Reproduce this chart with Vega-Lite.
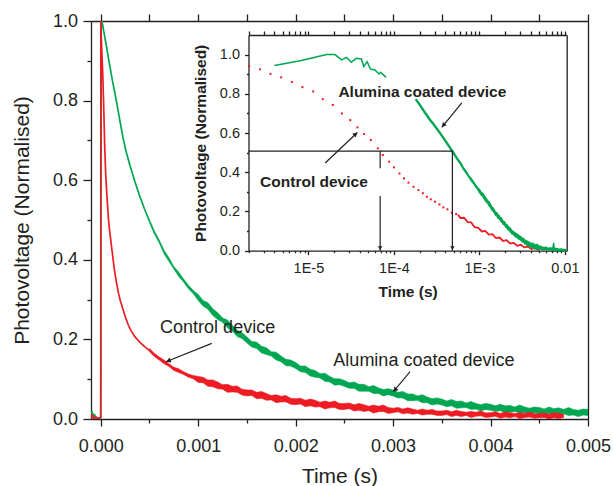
{
  "$schema": "https://vega.github.io/schema/vega-lite/v6.json",
  "width": 497,
  "height": 398,
  "autosize": {"type": "none"},
  "padding": {"left": 91, "top": 21, "right": 25, "bottom": 67},
  "background": "white",
  "config": {
    "view": {"stroke": null},
    "font": "Liberation Sans",
    "axis": {
      "labelFont": "Liberation Sans", "titleFont": "Liberation Sans",
      "domainColor": "#231f20", "tickColor": "#231f20", "labelColor": "#231f20", "titleColor": "#231f20",
      "grid": false, "domainWidth": 1.3, "tickWidth": 1.3, "labelFlush": false, "labelOverlap": false, "labelBound": false
    },
    "text": {"font": "Liberation Sans", "color": "#231f20"}
  },
  "datasets": {
    "greenMain": [
      {"t": -0.0001, "v": 0.008}, {"t": -0.00009, "v": 0.02}, {"t": -0.000085, "v": 0.004}, {"t": -0.00008, "v": 0.014},
      {"t": -0.00007, "v": 0.003}, {"t": -0.00006, "v": 0.009}, {"t": -0.00005, "v": 0.002}, {"t": -0.00004, "v": 0.004},
      {"t": -0.00002, "v": 0.002}, {"t": 0, "v": 0.003}, {"t": 0.000005, "v": 1.0}, {"t": 0.00001, "v": 1.0},
      {"t": 0.00002, "v": 0.99}, {"t": 0.00003, "v": 0.975}, {"t": 0.00004, "v": 0.962}, {"t": 0.00006, "v": 0.935},
      {"t": 0.00008, "v": 0.905}, {"t": 0.0001, "v": 0.878}, {"t": 0.00012, "v": 0.85}, {"t": 0.00014, "v": 0.825},
      {"t": 0.00016, "v": 0.8}, {"t": 0.00018, "v": 0.772}, {"t": 0.0002, "v": 0.745}, {"t": 0.00023, "v": 0.705},
      {"t": 0.00026, "v": 0.672}, {"t": 0.0003, "v": 0.637}, {"t": 0.00035, "v": 0.597}, {"t": 0.0004, "v": 0.56},
      {"t": 0.00045, "v": 0.527}, {"t": 0.0005, "v": 0.497}
    ],
    "greenBand": [
      {"t": 0.0005, "lo": 0.493, "hi": 0.501}, {"t": 0.00055, "lo": 0.465, "hi": 0.473}, {"t": 0.0006, "lo": 0.442, "hi": 0.45},
      {"t": 0.00065, "lo": 0.415, "hi": 0.424}, {"t": 0.0007, "lo": 0.396, "hi": 0.405}, {"t": 0.00075, "lo": 0.377, "hi": 0.383},
      {"t": 0.0008, "lo": 0.358, "hi": 0.369}, {"t": 0.00085, "lo": 0.344, "hi": 0.352}, {"t": 0.0009, "lo": 0.327, "hi": 0.336},
      {"t": 0.00095, "lo": 0.315, "hi": 0.323}, {"t": 0.001, "lo": 0.298, "hi": 0.313}, {"t": 0.00105, "lo": 0.284, "hi": 0.298},
      {"t": 0.0011, "lo": 0.276, "hi": 0.292}, {"t": 0.00115, "lo": 0.26, "hi": 0.277}, {"t": 0.0012, "lo": 0.25, "hi": 0.267},
      {"t": 0.00125, "lo": 0.243, "hi": 0.254}, {"t": 0.0013, "lo": 0.229, "hi": 0.249}, {"t": 0.00135, "lo": 0.221, "hi": 0.235},
      {"t": 0.0014, "lo": 0.207, "hi": 0.223}, {"t": 0.00145, "lo": 0.202, "hi": 0.217}, {"t": 0.0015, "lo": 0.191, "hi": 0.206},
      {"t": 0.00155, "lo": 0.181, "hi": 0.195}, {"t": 0.0016, "lo": 0.177, "hi": 0.193}, {"t": 0.00165, "lo": 0.166, "hi": 0.183},
      {"t": 0.0017, "lo": 0.162, "hi": 0.179}, {"t": 0.00175, "lo": 0.158, "hi": 0.169}, {"t": 0.0018, "lo": 0.148, "hi": 0.168},
      {"t": 0.00185, "lo": 0.144, "hi": 0.158}, {"t": 0.0019, "lo": 0.134, "hi": 0.15}, {"t": 0.00195, "lo": 0.133, "hi": 0.148},
      {"t": 0.002, "lo": 0.127, "hi": 0.142}, {"t": 0.00205, "lo": 0.119, "hi": 0.133}, {"t": 0.0021, "lo": 0.117, "hi": 0.133},
      {"t": 0.00215, "lo": 0.108, "hi": 0.125}, {"t": 0.0022, "lo": 0.105, "hi": 0.122}, {"t": 0.00225, "lo": 0.103, "hi": 0.114},
      {"t": 0.0023, "lo": 0.095, "hi": 0.115}, {"t": 0.00235, "lo": 0.093, "hi": 0.107}, {"t": 0.0024, "lo": 0.085, "hi": 0.101},
      {"t": 0.00245, "lo": 0.086, "hi": 0.101}, {"t": 0.0025, "lo": 0.082, "hi": 0.097}, {"t": 0.00255, "lo": 0.077, "hi": 0.091},
      {"t": 0.0026, "lo": 0.077, "hi": 0.093}, {"t": 0.00265, "lo": 0.07, "hi": 0.087}, {"t": 0.0027, "lo": 0.07, "hi": 0.087},
      {"t": 0.00275, "lo": 0.07, "hi": 0.081}, {"t": 0.0028, "lo": 0.064, "hi": 0.084}, {"t": 0.00285, "lo": 0.064, "hi": 0.078},
      {"t": 0.0029, "lo": 0.058, "hi": 0.074}, {"t": 0.00295, "lo": 0.061, "hi": 0.076}, {"t": 0.003, "lo": 0.058, "hi": 0.073},
      {"t": 0.00305, "lo": 0.053, "hi": 0.067}, {"t": 0.0031, "lo": 0.053, "hi": 0.069}, {"t": 0.00315, "lo": 0.046, "hi": 0.063},
      {"t": 0.0032, "lo": 0.046, "hi": 0.063}, {"t": 0.00325, "lo": 0.047, "hi": 0.058}, {"t": 0.0033, "lo": 0.041, "hi": 0.061},
      {"t": 0.00335, "lo": 0.041, "hi": 0.055}, {"t": 0.0034, "lo": 0.035, "hi": 0.051}, {"t": 0.00345, "lo": 0.038, "hi": 0.053},
      {"t": 0.0035, "lo": 0.035, "hi": 0.05}, {"t": 0.00355, "lo": 0.031, "hi": 0.045}, {"t": 0.0036, "lo": 0.033, "hi": 0.049},
      {"t": 0.00365, "lo": 0.027, "hi": 0.044}, {"t": 0.0037, "lo": 0.028, "hi": 0.045}, {"t": 0.00375, "lo": 0.029, "hi": 0.04},
      {"t": 0.0038, "lo": 0.024, "hi": 0.044}, {"t": 0.00385, "lo": 0.025, "hi": 0.039}, {"t": 0.0039, "lo": 0.02, "hi": 0.036},
      {"t": 0.00395, "lo": 0.024, "hi": 0.039}, {"t": 0.004, "lo": 0.022, "hi": 0.037}, {"t": 0.00405, "lo": 0.019, "hi": 0.033},
      {"t": 0.0041, "lo": 0.021, "hi": 0.037}, {"t": 0.00415, "lo": 0.016, "hi": 0.033}, {"t": 0.0042, "lo": 0.017, "hi": 0.034},
      {"t": 0.00425, "lo": 0.019, "hi": 0.03}, {"t": 0.0043, "lo": 0.015, "hi": 0.035}, {"t": 0.00435, "lo": 0.016, "hi": 0.03},
      {"t": 0.0044, "lo": 0.011, "hi": 0.027}, {"t": 0.00445, "lo": 0.015, "hi": 0.03}, {"t": 0.0045, "lo": 0.014, "hi": 0.029},
      {"t": 0.00455, "lo": 0.011, "hi": 0.025}, {"t": 0.0046, "lo": 0.014, "hi": 0.03}, {"t": 0.00465, "lo": 0.009, "hi": 0.026},
      {"t": 0.0047, "lo": 0.011, "hi": 0.028}, {"t": 0.00475, "lo": 0.013, "hi": 0.024}, {"t": 0.0048, "lo": 0.009, "hi": 0.029},
      {"t": 0.00485, "lo": 0.01, "hi": 0.024}, {"t": 0.0049, "lo": 0.006, "hi": 0.022}, {"t": 0.00495, "lo": 0.01, "hi": 0.025},
      {"t": 0.005, "lo": 0.009, "hi": 0.024},
      {"t": 0.0053, "lo": 0.008, "hi": 0.02}, {"t": 0.0056, "lo": 0.005, "hi": 0.016}, {"t": 0.006, "lo": 0.007, "hi": 0.018},
      {"t": 0.0064, "lo": 0.003, "hi": 0.012}, {"t": 0.0068, "lo": 0.005, "hi": 0.015}, {"t": 0.0072, "lo": 0.002, "hi": 0.011},
      {"t": 0.0074, "lo": 0.006, "hi": 0.04}, {"t": 0.0075, "lo": 0.003, "hi": 0.012}, {"t": 0.008, "lo": 0.002, "hi": 0.011},
      {"t": 0.0085, "lo": 0.001, "hi": 0.008}, {"t": 0.009, "lo": 0.001, "hi": 0.009}, {"t": 0.0095, "lo": 0.0, "hi": 0.006},
      {"t": 0.0102, "lo": 0.0, "hi": 0.006}
    ],
    "redMain": [
      {"t": -0.0001, "v": 0.004}, {"t": -0.00009, "v": 0.012}, {"t": -0.000085, "v": 0.002}, {"t": -0.00008, "v": 0.007},
      {"t": -0.00007, "v": 0.001}, {"t": -0.00005, "v": 0.005}, {"t": -0.00003, "v": 0.001}, {"t": 0, "v": 0.004},
      {"t": 0.000001, "v": 1.0}, {"t": 0.000005, "v": 0.96}, {"t": 0.00001, "v": 0.93}, {"t": 0.000015, "v": 0.9},
      {"t": 0.00002, "v": 0.87}, {"t": 0.00003, "v": 0.79}, {"t": 0.00004, "v": 0.69}, {"t": 0.00005, "v": 0.62},
      {"t": 0.00006, "v": 0.575}, {"t": 0.00007, "v": 0.535}, {"t": 0.00008, "v": 0.5}, {"t": 0.00009, "v": 0.475},
      {"t": 0.0001, "v": 0.455}, {"t": 0.00012, "v": 0.415}, {"t": 0.00014, "v": 0.375}, {"t": 0.00016, "v": 0.345},
      {"t": 0.00018, "v": 0.318}, {"t": 0.0002, "v": 0.298}, {"t": 0.00022, "v": 0.282}, {"t": 0.00025, "v": 0.258},
      {"t": 0.00028, "v": 0.238}, {"t": 0.00031, "v": 0.222}, {"t": 0.00035, "v": 0.207}, {"t": 0.0004, "v": 0.193},
      {"t": 0.00045, "v": 0.182}, {"t": 0.0005, "v": 0.172}
    ],
    "redBand": [
      {"t": 0.0005, "lo": 0.169, "hi": 0.177}, {"t": 0.00055, "lo": 0.157, "hi": 0.165}, {"t": 0.0006, "lo": 0.148, "hi": 0.156},
      {"t": 0.00065, "lo": 0.139, "hi": 0.148}, {"t": 0.0007, "lo": 0.132, "hi": 0.139}, {"t": 0.00075, "lo": 0.122, "hi": 0.13},
      {"t": 0.0008, "lo": 0.117, "hi": 0.126}, {"t": 0.00085, "lo": 0.112, "hi": 0.119}, {"t": 0.0009, "lo": 0.105, "hi": 0.113},
      {"t": 0.00095, "lo": 0.101, "hi": 0.109}, {"t": 0.001, "lo": 0.092, "hi": 0.107}, {"t": 0.00105, "lo": 0.091, "hi": 0.105},
      {"t": 0.0011, "lo": 0.082, "hi": 0.098}, {"t": 0.00115, "lo": 0.081, "hi": 0.098}, {"t": 0.0012, "lo": 0.076, "hi": 0.093},
      {"t": 0.00125, "lo": 0.075, "hi": 0.086}, {"t": 0.0013, "lo": 0.067, "hi": 0.087}, {"t": 0.00135, "lo": 0.068, "hi": 0.082},
      {"t": 0.0014, "lo": 0.067, "hi": 0.083}, {"t": 0.00145, "lo": 0.06, "hi": 0.075}, {"t": 0.0015, "lo": 0.058, "hi": 0.073},
      {"t": 0.00155, "lo": 0.059, "hi": 0.073}, {"t": 0.0016, "lo": 0.051, "hi": 0.067}, {"t": 0.00165, "lo": 0.052, "hi": 0.069},
      {"t": 0.0017, "lo": 0.047, "hi": 0.064}, {"t": 0.00175, "lo": 0.048, "hi": 0.059}, {"t": 0.0018, "lo": 0.041, "hi": 0.061},
      {"t": 0.00185, "lo": 0.043, "hi": 0.057}, {"t": 0.0019, "lo": 0.043, "hi": 0.059}, {"t": 0.00195, "lo": 0.037, "hi": 0.052},
      {"t": 0.002, "lo": 0.036, "hi": 0.051}, {"t": 0.00205, "lo": 0.038, "hi": 0.052}, {"t": 0.0021, "lo": 0.031, "hi": 0.047},
      {"t": 0.00215, "lo": 0.033, "hi": 0.05}, {"t": 0.0022, "lo": 0.03, "hi": 0.047}, {"t": 0.00225, "lo": 0.031, "hi": 0.042},
      {"t": 0.0023, "lo": 0.025, "hi": 0.045}, {"t": 0.00235, "lo": 0.028, "hi": 0.042}, {"t": 0.0024, "lo": 0.029, "hi": 0.045},
      {"t": 0.00245, "lo": 0.024, "hi": 0.039}, {"t": 0.0025, "lo": 0.024, "hi": 0.039}, {"t": 0.00255, "lo": 0.026, "hi": 0.04},
      {"t": 0.0026, "lo": 0.02, "hi": 0.036}, {"t": 0.00265, "lo": 0.022, "hi": 0.039}, {"t": 0.0027, "lo": 0.019, "hi": 0.036},
      {"t": 0.00275, "lo": 0.021, "hi": 0.032}, {"t": 0.0028, "lo": 0.015, "hi": 0.035}, {"t": 0.00285, "lo": 0.018, "hi": 0.032},
      {"t": 0.0029, "lo": 0.019, "hi": 0.035}, {"t": 0.00295, "lo": 0.014, "hi": 0.029}, {"t": 0.003, "lo": 0.016, "hi": 0.027},
      {"t": 0.00305, "lo": 0.018, "hi": 0.029}, {"t": 0.0031, "lo": 0.013, "hi": 0.025}, {"t": 0.00315, "lo": 0.015, "hi": 0.028},
      {"t": 0.0032, "lo": 0.012, "hi": 0.025}, {"t": 0.00325, "lo": 0.014, "hi": 0.022}, {"t": 0.0033, "lo": 0.01, "hi": 0.025},
      {"t": 0.00335, "lo": 0.012, "hi": 0.022}, {"t": 0.0034, "lo": 0.012, "hi": 0.024}, {"t": 0.00345, "lo": 0.009, "hi": 0.02},
      {"t": 0.0035, "lo": 0.009, "hi": 0.02}, {"t": 0.00355, "lo": 0.011, "hi": 0.022}, {"t": 0.0036, "lo": 0.006, "hi": 0.018},
      {"t": 0.00365, "lo": 0.009, "hi": 0.022}, {"t": 0.0037, "lo": 0.006, "hi": 0.019}, {"t": 0.00375, "lo": 0.009, "hi": 0.017},
      {"t": 0.0038, "lo": 0.004, "hi": 0.019}, {"t": 0.00385, "lo": 0.007, "hi": 0.017}, {"t": 0.0039, "lo": 0.008, "hi": 0.02},
      {"t": 0.00395, "lo": 0.004, "hi": 0.015}, {"t": 0.004, "lo": 0.005, "hi": 0.016}, {"t": 0.00405, "lo": 0.007, "hi": 0.018},
      {"t": 0.0041, "lo": 0.002, "hi": 0.014}, {"t": 0.00415, "lo": 0.005, "hi": 0.018}, {"t": 0.0042, "lo": 0.003, "hi": 0.016},
      {"t": 0.00425, "lo": 0.006, "hi": 0.014}, {"t": 0.0043, "lo": 0.001, "hi": 0.016}, {"t": 0.00435, "lo": 0.004, "hi": 0.014},
      {"t": 0.0044, "lo": 0.005, "hi": 0.017}, {"t": 0.00445, "lo": 0.002, "hi": 0.013}, {"t": 0.0045, "lo": 0.003, "hi": 0.014},
      {"t": 0.00455, "lo": 0.004, "hi": 0.015}, {"t": 0.0046, "lo": 0.0, "hi": 0.012}, {"t": 0.00465, "lo": 0.003, "hi": 0.016},
      {"t": 0.0047, "lo": 0.001, "hi": 0.014}, {"t": 0.00475, "lo": 0.004, "hi": 0.012}
    ],
    "greenEarly": [
      {"t": 0.000004, "v": 0.945}, {"t": 0.000008, "v": 0.969}, {"t": 0.000013, "v": 0.99}, {"t": 0.0000163, "v": 1.0},
      {"t": 0.0000204, "v": 1.0}, {"t": 0.0000244, "v": 0.973}, {"t": 0.0000279, "v": 0.986}, {"t": 0.0000318, "v": 0.961},
      {"t": 0.0000363, "v": 0.981}, {"t": 0.0000416, "v": 0.978}, {"t": 0.0000444, "v": 0.939}, {"t": 0.0000486, "v": 0.964},
      {"t": 0.000053, "v": 0.927}, {"t": 0.00006, "v": 0.922}, {"t": 0.000067, "v": 0.901}, {"t": 0.00007, "v": 0.91},
      {"t": 0.000081, "v": 0.884}
    ],
    "redDots": [
      {"t": 0.00000202, "v": 0.941}, {"t": 0.00000272, "v": 0.925}, {"t": 0.0000036, "v": 0.902}, {"t": 0.0000048, "v": 0.884},
      {"t": 0.0000064, "v": 0.86}, {"t": 0.0000085, "v": 0.834}, {"t": 0.00001135, "v": 0.812}, {"t": 0.0000147, "v": 0.773},
      {"t": 0.0000193, "v": 0.743}, {"t": 0.0000246, "v": 0.7}, {"t": 0.0000308, "v": 0.666}, {"t": 0.0000374, "v": 0.629},
      {"t": 0.0000448, "v": 0.595}, {"t": 0.0000537, "v": 0.564}, {"t": 0.0000648, "v": 0.522}, {"t": 0.0000741, "v": 0.488},
      {"t": 0.0000879, "v": 0.454}, {"t": 0.0001, "v": 0.425}, {"t": 0.000116, "v": 0.394}, {"t": 0.000131, "v": 0.369},
      {"t": 0.000148, "v": 0.347}, {"t": 0.000169, "v": 0.326}, {"t": 0.000194, "v": 0.309}, {"t": 0.000218, "v": 0.293},
      {"t": 0.000243, "v": 0.275}, {"t": 0.00027, "v": 0.262}, {"t": 0.000303, "v": 0.25}, {"t": 0.000341, "v": 0.236},
      {"t": 0.000379, "v": 0.221}, {"t": 0.000422, "v": 0.211}, {"t": 0.000475, "v": 0.194}, {"t": 0.000534, "v": 0.187}
    ],
    "redInset": [
      {"t": 0.00056, "v": 0.184}, {"t": 0.0006, "v": 0.167}, {"t": 0.00066, "v": 0.168}, {"t": 0.00073, "v": 0.146},
      {"t": 0.0008, "v": 0.144}, {"t": 0.00088, "v": 0.12}, {"t": 0.00097, "v": 0.117}, {"t": 0.00107, "v": 0.098},
      {"t": 0.00117, "v": 0.101}, {"t": 0.00129, "v": 0.082}, {"t": 0.00142, "v": 0.084}, {"t": 0.00156, "v": 0.064},
      {"t": 0.00172, "v": 0.067}, {"t": 0.00189, "v": 0.05}, {"t": 0.00208, "v": 0.054}, {"t": 0.00229, "v": 0.037},
      {"t": 0.00252, "v": 0.04}, {"t": 0.00277, "v": 0.025}, {"t": 0.00305, "v": 0.03}, {"t": 0.00335, "v": 0.017},
      {"t": 0.00369, "v": 0.021}, {"t": 0.00406, "v": 0.009}, {"t": 0.00446, "v": 0.014}, {"t": 0.00491, "v": 0.004},
      {"t": 0.0051, "v": 0.008}
    ]
  },
  "layer": [
    {
      "layer": [
        {
          "data": {"name": "greenMain"},
          "mark": {"type": "line", "color": "#00a651", "strokeWidth": 1.7, "clip": true},
          "encoding": {
            "x": {"field": "t", "type": "quantitative", "scale": {"domain": [-0.0001, 0.005], "nice": false, "zero": false},
              "axis": {"orient": "bottom", "values": [0, 0.001, 0.002, 0.003, 0.004, 0.005], "format": ".3f", "tickSize": 7,
                "labelPadding": 25, "labelBaseline": "alphabetic", "labelFontSize": 18, "title": "Time (s)", "titleFontSize": 21,
                "titleFontWeight": "normal", "titleBaseline": "alphabetic", "titleY": 63}},
            "y": {"field": "v", "type": "quantitative", "scale": {"domain": [0, 1], "nice": false, "zero": false},
              "axis": {"orient": "left", "values": [0, 0.2, 0.4, 0.6, 0.8, 1.0], "format": ".1f", "tickSize": 8,
                "labelPadding": 5.5, "labelFontSize": 18, "title": "Photovoltage (Normalised)", "titleFontSize": 21,
                "titleFontWeight": "normal", "titleBaseline": "alphabetic", "titleX": -62.3}}
          }
        },
        {
          "data": {"name": "greenBand"},
          "transform": [{"filter": "datum.t <= 0.005"}],
          "mark": {"type": "area", "color": "#00a651", "stroke": "#00a651", "strokeWidth": 0.6, "opacity": 1, "clip": true},
          "encoding": {
            "x": {"field": "t", "type": "quantitative", "scale": {"domain": [-0.0001, 0.005], "nice": false, "zero": false}, "axis": null},
            "y": {"field": "lo", "type": "quantitative", "scale": {"domain": [0, 1], "nice": false, "zero": false}, "axis": null},
            "y2": {"field": "hi"}
          }
        },
        {
          "data": {"name": "redMain"},
          "mark": {"type": "line", "color": "#ed1c24", "strokeWidth": 1.7, "clip": true},
          "encoding": {
            "x": {"field": "t", "type": "quantitative", "scale": {"domain": [-0.0001, 0.005], "nice": false, "zero": false},
              "axis": {"orient": "bottom", "values": [0.0005, 0.0015, 0.0025, 0.0035, 0.0045], "tickSize": 4, "labels": false, "domain": false, "title": null}},
            "y": {"field": "v", "type": "quantitative", "scale": {"domain": [0, 1], "nice": false, "zero": false},
              "axis": {"orient": "left", "values": [0.1, 0.3, 0.5, 0.7, 0.9], "tickSize": 4, "labels": false, "domain": false, "title": null}}
          }
        },
        {
          "data": {"name": "redBand"},
          "mark": {"type": "area", "color": "#ed1c24", "stroke": "#ed1c24", "strokeWidth": 0.6, "opacity": 1, "clip": true},
          "encoding": {
            "x": {"field": "t", "type": "quantitative", "scale": {"domain": [-0.0001, 0.005], "nice": false, "zero": false}, "axis": null},
            "y": {"field": "lo", "type": "quantitative", "scale": {"domain": [0, 1], "nice": false, "zero": false}, "axis": null},
            "y2": {"field": "hi"}
          }
        },
        {
          "data": {"values": [
            {"t": 0.000609, "v": 0.216, "label": "Control device"},
            {"t": 0.002387, "v": 0.133, "label": "Alumina coated device"}
          ]},
          "mark": {"type": "text", "align": "left", "baseline": "alphabetic", "fontSize": 18, "color": "#231f20"},
          "encoding": {
            "x": {"field": "t", "type": "quantitative", "scale": {"domain": [-0.0001, 0.005], "nice": false, "zero": false},
              "axis": {"orient": "top", "values": [0, 0.0005, 0.001, 0.0015, 0.002, 0.0025, 0.003, 0.0035, 0.004, 0.0045, 0.005], "tickSize": 7, "labels": false, "title": null}},
            "y": {"field": "v", "type": "quantitative", "scale": {"domain": [0, 1], "nice": false, "zero": false},
              "axis": {"orient": "right", "ticks": false, "labels": false, "title": null}},
            "text": {"field": "label"}
          }
        },
        {
          "data": {"values": [
            {"t1": 0.001139, "v1": 0.19, "t2": 0.00067, "v2": 0.144},
            {"t1": 0.003174, "v1": 0.119, "t2": 0.003003, "v2": 0.069}
          ]},
          "mark": {"type": "rule", "color": "#231f20", "strokeWidth": 1.1},
          "encoding": {
            "x": {"field": "t1", "type": "quantitative", "scale": {"domain": [-0.0001, 0.005], "nice": false, "zero": false}, "axis": null},
            "y": {"field": "v1", "type": "quantitative", "scale": {"domain": [0, 1], "nice": false, "zero": false}, "axis": null},
            "x2": {"field": "t2"},
            "y2": {"field": "v2"}
          }
        },
        {
          "data": {"values": [{"t": 0.000694, "v": 0.146}]},
          "mark": {"type": "point", "shape": "triangle-up", "filled": true, "size": 28, "angle": 248, "color": "#231f20", "opacity": 1},
          "encoding": {
            "x": {"field": "t", "type": "quantitative", "scale": {"domain": [-0.0001, 0.005], "nice": false, "zero": false}, "axis": null},
            "y": {"field": "v", "type": "quantitative", "scale": {"domain": [0, 1], "nice": false, "zero": false}, "axis": null}
          }
        },
        {
          "data": {"values": [{"t": 0.003019, "v": 0.073}]},
          "mark": {"type": "point", "shape": "triangle-up", "filled": true, "size": 28, "angle": 220, "color": "#231f20", "opacity": 1},
          "encoding": {
            "x": {"field": "t", "type": "quantitative", "scale": {"domain": [-0.0001, 0.005], "nice": false, "zero": false}, "axis": null},
            "y": {"field": "v", "type": "quantitative", "scale": {"domain": [0, 1], "nice": false, "zero": false}, "axis": null}
          }
        }
      ],
      "resolve": {"axis": {"x": "independent", "y": "independent"}}
    },
    {
      "layer": [
        {
          "data": {"name": "redDots"},
          "mark": {"type": "point", "shape": "square", "filled": true, "size": 4, "color": "#ed1c24", "opacity": 1},
          "encoding": {
            "x": {"field": "t", "type": "quantitative", "scale": {"type": "log", "domain": [0.00000199, 0.0105], "range": [157.5, 475.7], "nice": false},
              "axis": {"orient": "bottom", "offset": -168.3, "values": [0.00001, 0.0001, 0.001, 0.01],
                "labelExpr": "datum.value < 0.00005 ? '1E-5' : datum.value < 0.0005 ? '1E-4' : datum.value < 0.005 ? '1E-3' : '0.01'",
                "tickSize": 4, "labelPadding": 17.3, "labelBaseline": "alphabetic", "labelFontSize": 14.5,
                "title": "Time (s)", "titleFontSize": 15.5, "titleFontWeight": "bold", "titleBaseline": "alphabetic", "titleY": 45.5}},
            "y": {"field": "v", "type": "quantitative", "scale": {"domain": [0, 1.1], "range": [229.7, 14], "nice": false, "zero": false},
              "axis": {"orient": "left", "offset": -157.5, "values": [0, 0.2, 0.4, 0.6, 0.8, 1.0], "format": ".1f", "tickSize": 4,
                "labelPadding": 5, "labelFontSize": 14.5, "title": "Photovoltage (Normalised)", "titleFontSize": 15.5,
                "titleFontWeight": "bold", "titleBaseline": "alphabetic", "titleX": -42.8}}
          }
        },
        {
          "data": {"name": "redInset"},
          "mark": {"type": "line", "color": "#ed1c24", "strokeWidth": 1.8},
          "encoding": {
            "x": {"field": "t", "type": "quantitative", "scale": {"type": "log", "domain": [0.00000199, 0.0105], "range": [157.5, 475.7], "nice": false},
              "axis": {"orient": "bottom", "offset": -168.3, "tickSize": 2, "labels": false, "domain": false, "title": null,
                "values": [0.000002, 0.000003, 0.000004, 0.000005, 0.000006, 0.000007, 0.000008, 0.000009,
                  0.00002, 0.00003, 0.00004, 0.00005, 0.00006, 0.00007, 0.00008, 0.00009,
                  0.0002, 0.0003, 0.0004, 0.0005, 0.0006, 0.0007, 0.0008, 0.0009,
                  0.002, 0.003, 0.004, 0.005, 0.006, 0.007, 0.008, 0.009]}},
            "y": {"field": "v", "type": "quantitative", "scale": {"domain": [0, 1.1], "range": [229.7, 14], "nice": false, "zero": false},
              "axis": {"orient": "left", "offset": -157.5, "values": [0.1, 0.3, 0.5, 0.7, 0.9], "tickSize": 2, "labels": false, "domain": false, "title": null}}
          }
        },
        {
          "data": {"name": "greenEarly"},
          "mark": {"type": "line", "color": "#00a651", "strokeWidth": 1.5},
          "encoding": {
            "x": {"field": "t", "type": "quantitative", "scale": {"type": "log", "domain": [0.00000199, 0.0105], "range": [157.5, 475.7], "nice": false},
              "axis": {"orient": "top", "offset": -14, "tickSize": 4, "labels": false, "title": null,
                "values": [0.000002, 0.000003, 0.000004, 0.000005, 0.000006, 0.000007, 0.000008, 0.000009, 0.00001,
                  0.00002, 0.00003, 0.00004, 0.00005, 0.00006, 0.00007, 0.00008, 0.00009, 0.0001,
                  0.0002, 0.0003, 0.0004, 0.0005, 0.0006, 0.0007, 0.0008, 0.0009, 0.001,
                  0.002, 0.003, 0.004, 0.005, 0.006, 0.007, 0.008, 0.009, 0.01]}},
            "y": {"field": "v", "type": "quantitative", "scale": {"domain": [0, 1.1], "range": [229.7, 14], "nice": false, "zero": false},
              "axis": {"orient": "right", "offset": -21.3, "ticks": false, "labels": false, "title": null}}
          }
        },
        {
          "data": {"name": "greenMain"},
          "transform": [{"filter": "datum.t >= 0.00018"}],
          "mark": {"type": "line", "color": "#00a651", "strokeWidth": 2.4},
          "encoding": {
            "x": {"field": "t", "type": "quantitative", "scale": {"type": "log", "domain": [0.00000199, 0.0105], "range": [157.5, 475.7], "nice": false}, "axis": null},
            "y": {"field": "v", "type": "quantitative", "scale": {"domain": [0, 1.1], "range": [229.7, 14], "nice": false, "zero": false}, "axis": null}
          }
        },
        {
          "data": {"name": "greenBand"},
          "mark": {"type": "area", "color": "#00a651", "stroke": "#00a651", "strokeWidth": 1.4, "opacity": 1},
          "encoding": {
            "x": {"field": "t", "type": "quantitative", "scale": {"type": "log", "domain": [0.00000199, 0.0105], "range": [157.5, 475.7], "nice": false}, "axis": null},
            "y": {"field": "lo", "type": "quantitative", "scale": {"domain": [0, 1.1], "range": [229.7, 14], "nice": false, "zero": false}, "axis": null},
            "y2": {"field": "hi"}
          }
        },
        {
          "data": {"values": [
            {"t1": 0.00000199, "t2": 0.000483, "v1": 0.508, "v2": 0.508},
            {"t1": 0.000069, "t2": 0.000069, "v1": 0.508, "v2": 0.421},
            {"t1": 0.000069, "t2": 0.000069, "v1": 0.279, "v2": 0.0},
            {"t1": 0.000483, "t2": 0.000483, "v1": 0.508, "v2": 0.0},
            {"t1": 0.0000157, "t2": 0.0000374, "v1": 0.447, "v2": 0.603},
            {"t1": 0.000622, "t2": 0.000363, "v1": 0.754, "v2": 0.629}
          ]},
          "mark": {"type": "rule", "color": "#231f20", "strokeWidth": 1.2},
          "encoding": {
            "x": {"field": "t1", "type": "quantitative", "scale": {"type": "log", "domain": [0.00000199, 0.0105], "range": [157.5, 475.7], "nice": false}, "axis": null},
            "y": {"field": "v1", "type": "quantitative", "scale": {"domain": [0, 1.1], "range": [229.7, 14], "nice": false, "zero": false}, "axis": null},
            "x2": {"field": "t2"},
            "y2": {"field": "v2"}
          }
        },
        {
          "data": {"values": [{"t": 0.000069, "v": 0.013}, {"t": 0.000483, "v": 0.013}]},
          "mark": {"type": "point", "shape": "triangle-down", "filled": true, "size": 20, "color": "#231f20", "opacity": 1},
          "encoding": {
            "x": {"field": "t", "type": "quantitative", "scale": {"type": "log", "domain": [0.00000199, 0.0105], "range": [157.5, 475.7], "nice": false}, "axis": null},
            "y": {"field": "v", "type": "quantitative", "scale": {"domain": [0, 1.1], "range": [229.7, 14], "nice": false, "zero": false}, "axis": null}
          }
        },
        {
          "data": {"values": [{"t": 0.0000356, "v": 0.595}]},
          "mark": {"type": "point", "shape": "triangle-up", "filled": true, "size": 26, "angle": 46, "color": "#231f20", "opacity": 1},
          "encoding": {
            "x": {"field": "t", "type": "quantitative", "scale": {"type": "log", "domain": [0.00000199, 0.0105], "range": [157.5, 475.7], "nice": false}, "axis": null},
            "y": {"field": "v", "type": "quantitative", "scale": {"domain": [0, 1.1], "range": [229.7, 14], "nice": false, "zero": false}, "axis": null}
          }
        },
        {
          "data": {"values": [{"t": 0.000379, "v": 0.639}]},
          "mark": {"type": "point", "shape": "triangle-up", "filled": true, "size": 26, "angle": 219, "color": "#231f20", "opacity": 1},
          "encoding": {
            "x": {"field": "t", "type": "quantitative", "scale": {"type": "log", "domain": [0.00000199, 0.0105], "range": [157.5, 475.7], "nice": false}, "axis": null},
            "y": {"field": "v", "type": "quantitative", "scale": {"domain": [0, 1.1], "range": [229.7, 14], "nice": false, "zero": false}, "axis": null}
          }
        },
        {
          "data": {"values": [
            {"t": 0.00000272, "v": 0.323, "label": "Control device"},
            {"t": 0.0000224, "v": 0.785, "label": "Alumina coated device"}
          ]},
          "mark": {"type": "text", "align": "left", "baseline": "alphabetic", "fontSize": 15.5, "fontWeight": "bold", "color": "#231f20"},
          "encoding": {
            "x": {"field": "t", "type": "quantitative", "scale": {"type": "log", "domain": [0.00000199, 0.0105], "range": [157.5, 475.7], "nice": false}, "axis": null},
            "y": {"field": "v", "type": "quantitative", "scale": {"domain": [0, 1.1], "range": [229.7, 14], "nice": false, "zero": false}, "axis": null},
            "text": {"field": "label"}
          }
        }
      ],
      "resolve": {"axis": {"x": "independent", "y": "independent"}}
    }
  ],
  "resolve": {"scale": {"x": "independent", "y": "independent"}}
}
